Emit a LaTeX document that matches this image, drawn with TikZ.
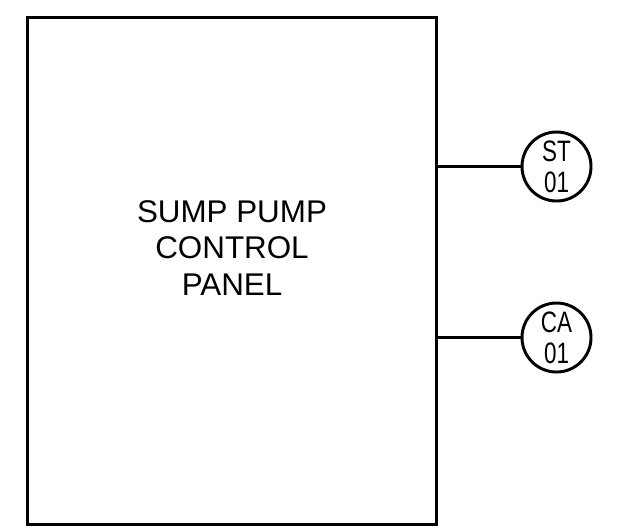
\documentclass[tikz,border=0pt]{standalone}
\usepackage{fontspec}
\setmainfont{Liberation Sans}
\newfontfamily\tagfont[FakeStretch=0.76]{Liberation Sans}
\usetikzlibrary{positioning, calc}

\begin{document}
\begin{tikzpicture}[
  x=0.025cm, y=-0.025cm,
  line width=2.1pt,
  panelbox/.style={draw=black, rectangle, minimum width=10.225cm, minimum height=12.675cm, inner sep=0pt},
  tagbubble/.style={draw=black, circle, minimum size=1.725cm, inner sep=0pt,
                    font=\tagfont\fontsize{21pt}{22pt}\selectfont, align=center},
]
\definecolor{cline}{HTML}{000000}   % wiring / outline

% picture frame (image is 623 x 529 px)
\useasboundingbox (0,0) rectangle (623,529);

% =====================================================================
% Control panel
% =====================================================================
\node[panelbox] (panel) at (232,271) {};
\node[font=\fontsize{22.3pt}{26.1pt}\selectfont, align=center] (paneltext) at (232,248)
  {SUMP PUMP\\CONTROL\\PANEL};

% =====================================================================
% Field devices
% =====================================================================
\node[tagbubble] (st) at (556.5,166.5) {ST\\01};
\node[tagbubble] (ca) at (556.5,337.5) {CA\\01};

% wires from panel edge to the tags
\draw[cline] (panel.east |- st.west) -- (st.west);
\draw[cline] (panel.east |- ca.west) -- (ca.west);

\end{tikzpicture}
\end{document}
